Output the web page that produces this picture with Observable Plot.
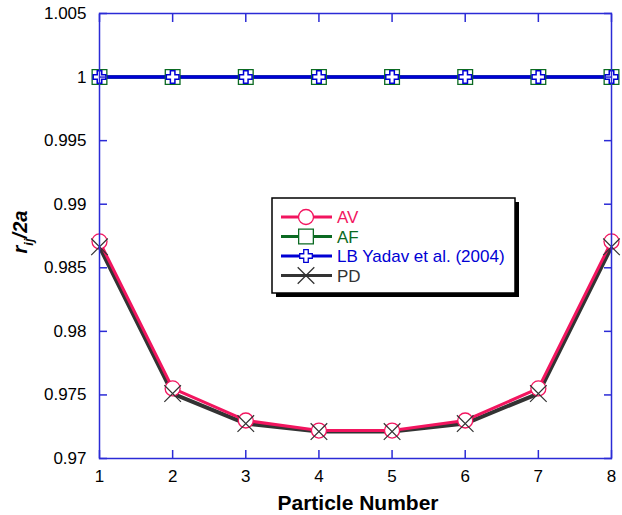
<!DOCTYPE html>
<html><head><meta charset="utf-8">
<script src="https://cdn.jsdelivr.net/npm/d3@7"></script>
<script src="https://cdn.jsdelivr.net/npm/@observablehq/plot@0.6"></script>
<style>
body{margin:0;background:#fff;font-family:"Liberation Sans",Arial,Helvetica,sans-serif}
#chart svg{display:block}
</style>
</head><body><div id="chart"></div>
<script>
const particles = [1, 2, 3, 4, 5, 6, 7, 8];
const av = [0.98707, 0.97551, 0.97299, 0.97220, 0.97220, 0.97299, 0.97551, 0.98707];
const af = [1, 1, 1, 1, 1, 1, 1, 1];
const lb = [1, 1, 1, 1, 1, 1, 1, 1];
const pd = [0.98665, 0.97511, 0.97275, 0.97212, 0.97212, 0.97275, 0.97511, 0.98665];
const yTicks = [0.97, 0.975, 0.98, 0.985, 0.99, 0.995, 1, 1.005];
const xTicks = [1, 2, 3, 4, 5, 6, 7, 8];
const seriesNames = ["AV", "AF", "LB Yadav et al. (2004)", "PD"];
const seriesColors = ["#f2155f", "#0b6a22", "#0000d4", "#333333"];
const xTitle = "Particle Number";

const frameColor = "#2b2bd6";
const rows = (vals) => particles.map((p, i) => ({x: p, y: vals[i]}));
const avData = rows(av), afData = rows(af), lbData = rows(lb), pdData = rows(pd);

// plus (cross) outline symbol
const plusSymbol = {
  draw(ctx, size) {
    const s = Math.sqrt(size / Math.PI), w = s * 0.36;
    ctx.moveTo(-w, -s); ctx.lineTo(w, -s); ctx.lineTo(w, -w); ctx.lineTo(s, -w);
    ctx.lineTo(s, w); ctx.lineTo(w, w); ctx.lineTo(w, s); ctx.lineTo(-w, s);
    ctx.lineTo(-w, w); ctx.lineTo(-s, w); ctx.lineTo(-s, -w); ctx.lineTo(-w, -w);
    ctx.closePath();
  }
};

const fmt = d => String(+d.toFixed(3));

const chart = Plot.plot({
  width: 622, height: 515,
  marginLeft: 99, marginRight: 11, marginTop: 13, marginBottom: 57,
  style: {fontFamily: '"Liberation Sans", Arial, sans-serif', fontSize: "16px", background: "#fff", color: "#000"},
  x: {domain: [1, 8]},
  y: {domain: [0.97, 1.005]},
  marks: [
    // data lines
    Plot.line(afData, {x: "x", y: "y", stroke: seriesColors[1], strokeWidth: 3.5}),
    Plot.line(lbData, {x: "x", y: "y", stroke: seriesColors[2], strokeWidth: 3.5}),
    Plot.line(pdData, {x: "x", y: "y", stroke: seriesColors[3], strokeWidth: 4}),
    Plot.line(avData, {x: "x", y: "y", stroke: seriesColors[0], strokeWidth: 3}),
    // markers
    Plot.dot(afData, {x: "x", y: "y", symbol: "square", r: 8.3, fill: "#fff", stroke: seriesColors[1], strokeWidth: 1.3}),
    Plot.dot(lbData, {x: "x", y: "y", symbol: plusSymbol, r: 6.3, fill: "#fff", stroke: seriesColors[2], strokeWidth: 1.5}),
    Plot.dot(avData, {x: "x", y: "y", symbol: "circle", r: 7.5, fill: "#fff", stroke: seriesColors[0], strokeWidth: 1.3}),
    Plot.dot(pdData, {x: "x", y: "y", symbol: "times", r: 7.6, stroke: seriesColors[3], strokeWidth: 1.2}),
    // frame and inward ticks
    Plot.frame({stroke: frameColor, strokeWidth: 1.5}),
    Plot.axisY({anchor: "left", ticks: yTicks, tickSize: -8, fill: "none", stroke: frameColor, strokeWidth: 1.5, label: null}),
    Plot.axisY({anchor: "right", ticks: yTicks, tickSize: -8, fill: "none", stroke: frameColor, strokeWidth: 1.5, label: null}),
    Plot.axisX({anchor: "bottom", ticks: xTicks, tickSize: -8, fill: "none", stroke: frameColor, strokeWidth: 1.5, label: null}),
    Plot.axisX({anchor: "top", ticks: xTicks, tickSize: -8, fill: "none", stroke: frameColor, strokeWidth: 1.5, label: null}),
    // tick labels
    Plot.axisY({anchor: "left", ticks: yTicks, tickSize: 0, tickPadding: 13, tickFormat: fmt, fontSize: 17, fill: "#000", label: null}),
    Plot.axisX({anchor: "bottom", ticks: xTicks, tickSize: 0, tickPadding: 11, tickFormat: d => String(d), fontSize: 17, fill: "#000", label: null})
  ]
});

document.getElementById("chart").appendChild(chart);

// axis titles and legend (annotation layer)
const svg = d3.select(chart);
svg.append("text")
  .attr("x", 358).attr("y", 510)
  .attr("text-anchor", "middle")
  .attr("font-size", 21).attr("font-weight", "bold")
  .attr("fill", "#000")
  .text(xTitle);

const yl = svg.append("text")
  .attr("transform", "translate(27,232) rotate(-90)")
  .attr("text-anchor", "middle")
  .attr("font-size", 20).attr("font-weight", "bold").attr("font-style", "italic")
  .attr("fill", "#000");
yl.append("tspan").text("r");
yl.append("tspan").attr("font-size", 13).attr("dy", 6).text("ij");
yl.append("tspan").attr("dy", -6).text("/2a");

const lg = svg.append("g").attr("text-anchor", "start");
lg.append("rect").attr("x", 276).attr("y", 202).attr("width", 243).attr("height", 95).attr("fill", "#000");
lg.append("rect").attr("x", 272).attr("y", 198).attr("width", 243).attr("height", 95).attr("fill", "#fff").attr("stroke", "#000").attr("stroke-width", 1.5);
const ys = [217, 236.5, 256, 275.5];
const sym = [d3.symbolCircle, d3.symbolSquare, plusSymbol, d3.symbolTimes];
const sizes = [Math.PI * 7.5 * 7.5, Math.PI * 8.3 * 8.3, Math.PI * 6.3 * 6.3, Math.PI * 7.6 * 7.6];
seriesNames.forEach((name, i) => {
  const y = ys[i];
  lg.append("line").attr("x1", 281).attr("x2", 332).attr("y1", y).attr("y2", y)
    .attr("stroke", seriesColors[i]).attr("stroke-width", 3);
  lg.append("path").attr("transform", `translate(306,${y})`)
    .attr("d", d3.symbol(sym[i], sizes[i])())
    .attr("fill", i === 3 ? "none" : "#fff")
    .attr("stroke", seriesColors[i]).attr("stroke-width", 1.3);
  lg.append("text").attr("x", 337).attr("y", y).attr("dy", "0.36em")
    .attr("text-anchor", "start")
    .attr("font-size", 17).attr("fill", seriesColors[i]).text(name);
});
</script>
</body></html>
